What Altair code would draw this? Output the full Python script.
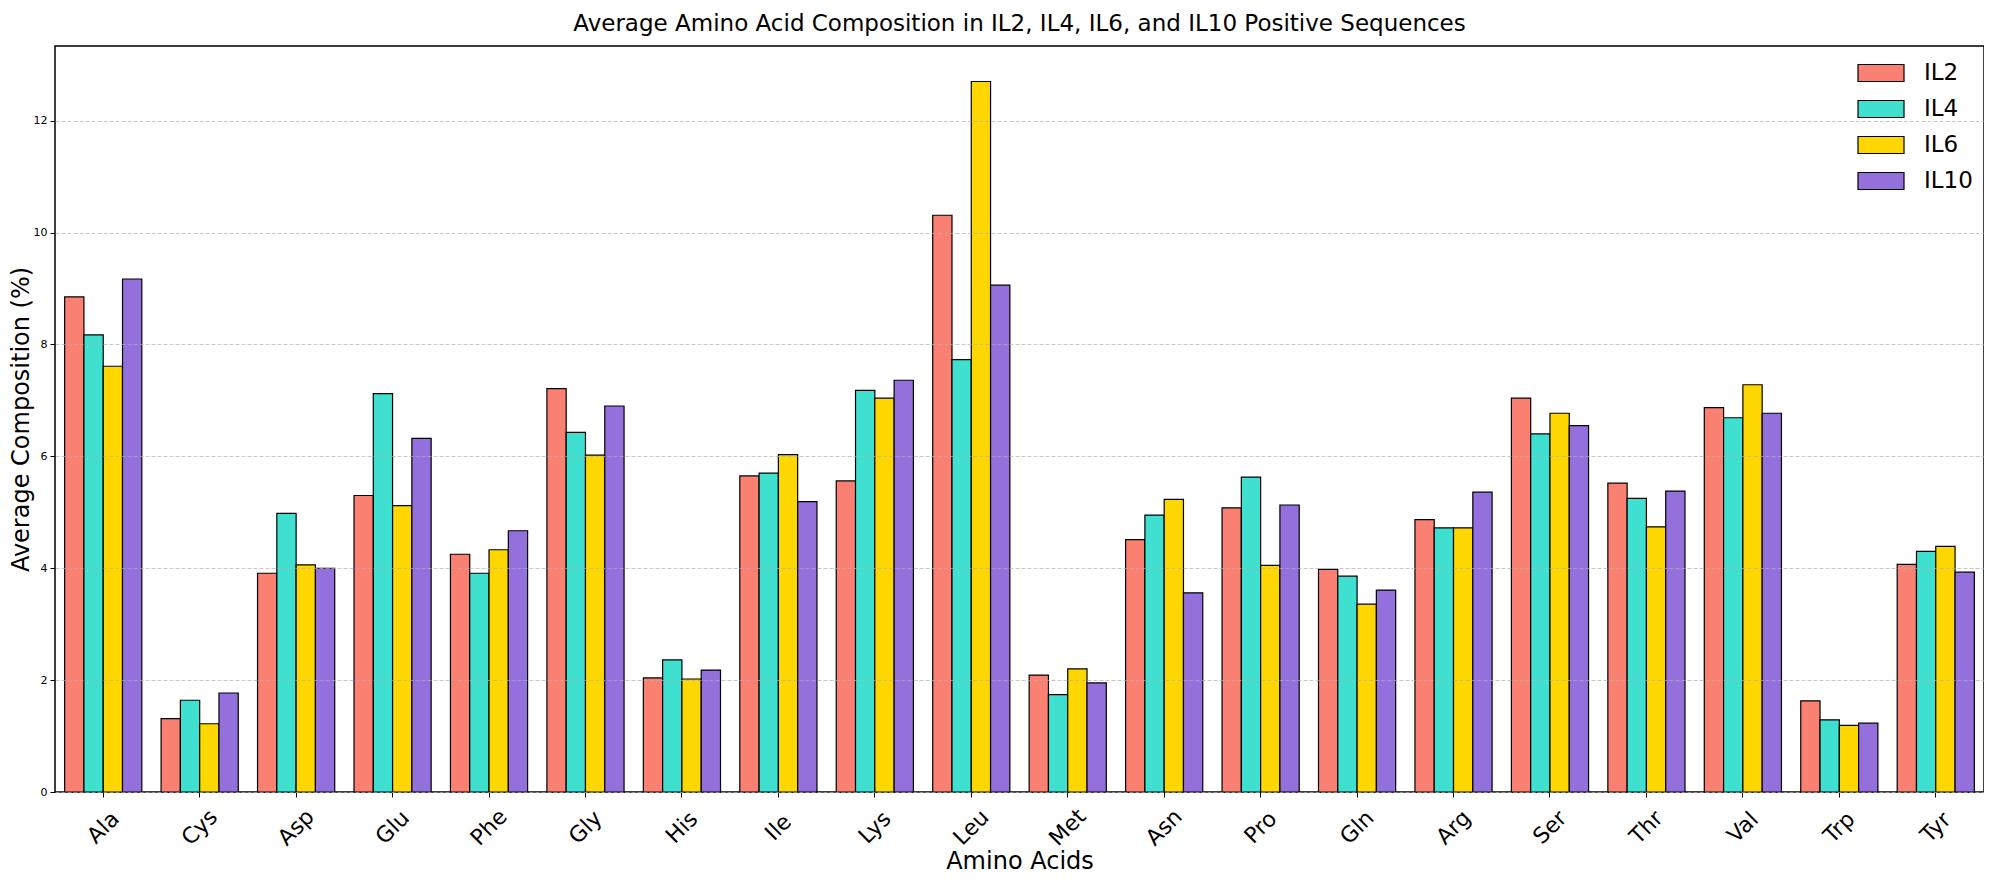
import altair as alt
import pandas as pd

amino_acids = ["Ala", "Cys", "Asp", "Glu", "Phe", "Gly", "His", "Ile", "Lys", "Leu",
               "Met", "Asn", "Pro", "Gln", "Arg", "Ser", "Thr", "Val", "Trp", "Tyr"]
series = ["IL2", "IL4", "IL6", "IL10"]
il2 = [8.85, 1.31, 3.91, 5.30, 4.25, 7.21, 2.04, 5.65, 5.56, 10.31,
       2.09, 4.51, 5.08, 3.98, 4.87, 7.04, 5.52, 6.87, 1.63, 4.07]
il4 = [8.17, 1.64, 4.98, 7.12, 3.91, 6.43, 2.36, 5.70, 7.18, 7.73,
       1.74, 4.95, 5.63, 3.86, 4.72, 6.40, 5.25, 6.69, 1.29, 4.30]
il6 = [7.61, 1.22, 4.06, 5.12, 4.33, 6.02, 2.02, 6.03, 7.04, 12.70,
       2.20, 5.23, 4.05, 3.36, 4.72, 6.77, 4.74, 7.28, 1.19, 4.39]
il10 = [9.17, 1.77, 4.00, 6.32, 4.67, 6.90, 2.18, 5.19, 7.36, 9.06,
        1.95, 3.56, 5.13, 3.61, 5.36, 6.55, 5.38, 6.77, 1.23, 3.93]
colors = ["#FA8072", "#40E0D0", "#FFD700", "#9370DB"]
y_ticks = [0, 2, 4, 6, 8, 10, 12]

rows = []
for i, aa in enumerate(amino_acids):
    for s, vals in zip(series, [il2, il4, il6, il10]):
        rows.append({"aa": aa, "series": s, "value": vals[i]})
df = pd.DataFrame(rows)

font = "DejaVu Sans"
W, H = 1929, 746

chart = alt.Chart(df).mark_bar(stroke="black", strokeWidth=1.2).encode(
    x=alt.X("aa:N", sort=amino_acids,
            scale=alt.Scale(paddingInner=0.2, paddingOuter=0.1),
            axis=alt.Axis(title="Amino Acids", labelAngle=315, labelFontSize=22,
                          labelAlign="center", labelBaseline="middle", labelPadding=30,
                          tickSize=5, tickColor="black", tickWidth=1, domain=False,
                          grid=False, labelColor="black", labelFont=font,
                          titleFont=font, titleFontSize=24, titleFontWeight="normal",
                          titleColor="black", titleY=69, titleBaseline="middle")),
    xOffset=alt.XOffset("series:N", sort=series,
                        scale=alt.Scale(paddingInner=0, paddingOuter=0)),
    y=alt.Y("value:Q", scale=alt.Scale(domain=[0, 13.335], nice=False),
            axis=alt.Axis(values=y_ticks, title="Average Composition (%)",
                          labelFontSize=11, labelFont=font, labelColor="black",
                          labelPadding=3, tickSize=5, tickColor="black", tickWidth=1,
                          domain=False, grid=True, gridColor="#b0b0b0",
                          gridOpacity=0.7, gridDash=[4, 2], gridWidth=1,
                          titleFont=font, titleFontSize=24, titleFontWeight="normal",
                          titleColor="black", titleAngle=270, titleX=-34,
                          titleY=H / 2, titleAlign="center", titleBaseline="middle",
                          zindex=1)),
    color=alt.Color("series:N", sort=series,
                    scale=alt.Scale(domain=series, range=colors),
                    legend=alt.Legend(title=None, orient="none", legendX=1802, legendY=3,
                                      symbolType="M-1,-0.37H1V0.37H-1Z", symbolSize=2116,
                                      symbolStrokeColor="black", symbolStrokeWidth=1.2,
                                      symbolOpacity=1, labelFontSize=23, labelFont=font,
                                      labelColor="black", labelOffset=19, rowPadding=-14,
                                      padding=0)),
).properties(
    width=W, height=H,
    title=alt.TitleParams("Average Amino Acid Composition in IL2, IL4, IL6, and IL10 Positive Sequences",
                          fontSize=23, font=font, fontWeight="normal", color="black",
                          anchor="middle", offset=10),
    autosize=alt.AutoSizeParams(type="none"),
    padding={"left": 47, "top": 38, "right": 0, "bottom": 86},
).configure_view(stroke="black", strokeWidth=1.5)

chart.save("out.html", embed_options={"renderer": "svg", "actions": False})
